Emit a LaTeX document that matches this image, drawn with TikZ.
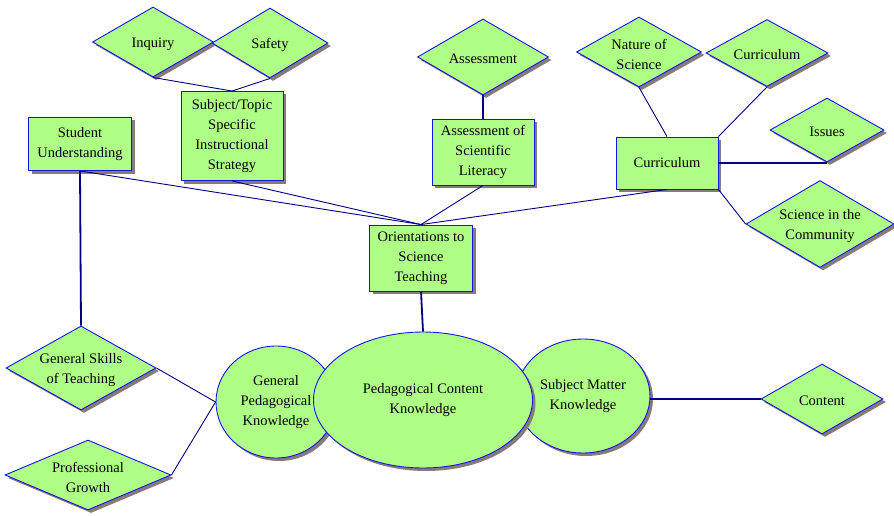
\documentclass[tikz,border=0pt]{standalone}
\usepackage{fontspec}
\setmainfont{Liberation Serif}
\usetikzlibrary{shapes.geometric,shadows}
\definecolor{fillg}{RGB}{175,255,135}
\definecolor{bordc}{RGB}{20,20,235}
\definecolor{linkc}{RGB}{0,0,128}
\definecolor{shadc}{RGB}{135,122,122}
\begin{document}
\begin{tikzpicture}[x=1pt,y=-1pt,
 every node/.style={font=\fontsize{14.5}{20}\selectfont},
 every label/.style={yshift=-2pt},
 base/.style={fill=fillg, draw=bordc, line width=0.9pt, drop shadow={shadow xshift=3pt, shadow yshift=-3pt, fill=shadc, opacity=1}},
 box/.style={base, rectangle, align=center, inner sep=0pt},
 dia/.style={base, diamond, inner sep=0pt},
 ell/.style={base, ellipse, inner sep=0pt, align=center},
 lnk/.style={draw=linkc, line width=0.9pt},
 thk/.style={draw=linkc, line width=1.8pt}]
\useasboundingbox (0,0) rectangle (894,516);

\node[box, minimum width=103pt, minimum height=53pt] (su) at (80,144) {Student\\Understanding};
\node[box, minimum width=102pt, minimum height=89pt] (st) at (232,136) {Subject/Topic\\Specific\\Instructional\\Strategy};
\node[dia, minimum width=121pt, minimum height=70pt, label={center:Inquiry}] (inq) at (153,42) {};
\node[dia, minimum width=116pt, minimum height=70pt, label={center:Safety}] (saf) at (270,43) {};
\node[dia, minimum width=131pt, minimum height=76pt, label={center:Assessment}] (as) at (483,57) {};
\node[box, minimum width=102pt, minimum height=66pt] (asl) at (483,152) {Assessment of\\Scientific\\Literacy};
\node[dia, minimum width=125pt, minimum height=70pt, label={[align=center]center:{Nature of\\Science}}] (nos) at (639,52) {};
\node[dia, minimum width=122pt, minimum height=67pt, label={center:Curriculum}] (cd) at (767,53) {};
\node[dia, minimum width=114pt, minimum height=64pt, label={center:Issues}] (iss) at (827,130) {};
\node[dia, minimum width=148pt, minimum height=87pt, label={[align=center]center:{Science in the\\Community}}] (com) at (820,224) {};
\node[box, minimum width=102pt, minimum height=52pt] (cur) at (667,163) {Curriculum};
\node[box, minimum width=103pt, minimum height=66pt] (or) at (421,258) {Orientations to\\Science\\Teaching};

\node[ell, minimum width=120pt, minimum height=112pt] (gpk) at (276,402) {General\\Pedagogical\\Knowledge};
\node[ell, minimum width=134pt, minimum height=114pt] (smk) at (583,396) {Subject Matter\\Knowledge};
\node[ell, minimum width=219pt, minimum height=136pt] (pck) at (423,400) {Pedagogical Content\\Knowledge};

\node[dia, minimum width=150pt, minimum height=84pt, label={[align=center]center:{General Skills\\of Teaching}}] (gs) at (81,368) {};
\node[dia, minimum width=166pt, minimum height=70pt, label={[align=center]center:{Professional\\Growth}}] (pg) at (88,475) {};
\node[dia, minimum width=122pt, minimum height=70pt, label={center:Content}] (con) at (822,399) {};

\draw[lnk] (inq.south) -- (st.north);
\draw[lnk] (saf.south) -- (st.north);
\draw[lnk] (su.south) -- (or.north);
\draw[lnk] (st.south) -- (or.north);
\draw[thk] (su.south) -- (gs.north);
\draw[thk] (as.south) -- (asl.north);
\draw[lnk] (asl.south) -- (or.north);
\draw[lnk] (cur.south) -- (or.north);
\draw[lnk] (nos.south) -- (cur.north);
\draw[lnk] (cd.south) -- (cur.north east);
\draw[thk] (cur.east) -- (cur.east -| iss.south);
\draw[lnk] (com.west) -- (cur.south east);
\draw[thk] (or.south) -- (pck.north);
\draw[lnk] (gs.east) -- (gpk.west);
\draw[lnk] (pg.east) -- (gpk.west);
\draw[thk] (con.west -| smk.east) -- (con.west);
\end{tikzpicture}
\end{document}
